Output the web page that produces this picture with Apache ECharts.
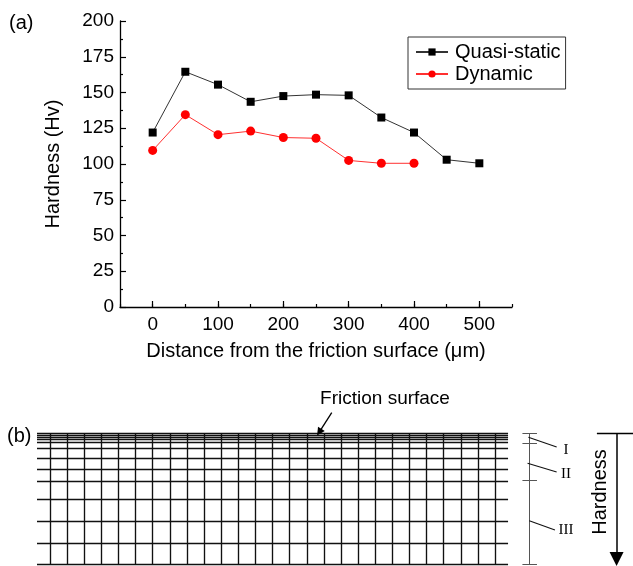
<!DOCTYPE html>
<html>
<head>
<meta charset="utf-8">
<script src="https://cdn.jsdelivr.net/npm/echarts@6/dist/echarts.min.js"></script>
<style>
html,body{margin:0;padding:0;background:#fff;}
#main{width:633px;height:566px;}
</style>
</head>
<body>
<div id="main"></div>
<script>
// ---------- Data: panel (a) ----------
const distances = [0, 50, 100, 150, 200, 250, 300, 350, 400, 450, 500];
const quasiStatic = [122, 164.5, 155.5, 143.5, 147.5, 148.5, 148, 132.5, 122, 103, 100.5];
const dynamicDist = [0, 50, 100, 150, 200, 250, 300, 350, 400];
const dynamic = [109.5, 134.5, 120.5, 123, 118.5, 118, 102.5, 100.5, 100.5];
const xMajorTicks = [0, 100, 200, 300, 400, 500];
const seriesNames = ['Quasi-static', 'Dynamic'];

// ---------- Data: panel (b) schematic ----------
const layerDepths = [0, 2, 4, 6.5, 9.5, 15.5, 25.5, 36, 48, 66, 88, 110, 131];
const gridColumns = [0,1,2,3,4,5,6,7,8,9,10,11,12,13,14,15,16,17,18,19,20,21,22,23,24,25,26];
const gridLeftEdge = -0.76;
const gridRightEdge = 26.76;
const zoneBounds = [0, 10.5, 47.5, 131];
const bracketX = 28;
const zoneLeaders = [
  [[27.95, 4.3], [29.6, 14]],
  [[27.9, 30.3], [29.6, 39]],
  [[28.0, 87.7], [29.5, 97]]
];
const hardnessArrowX = 33.1;
const hardnessTopBar = [31.95, 34.06];
const frictionArrow = [[16.46, -20.3], [15.73, -0.8]];

const FONT = '"Liberation Sans", Arial, Helvetica, sans-serif';
const SERIF = '"Liberation Serif", "Times New Roman", serif';

const chart = echarts.init(document.getElementById('main'), null, {renderer: 'canvas'});

const hLines = layerDepths.map(d => ({coords: [[gridLeftEdge, d], [gridRightEdge, d]]}));
const vLines = gridColumns.map(c => ({coords: [[c, layerDepths[0]], [c, layerDepths[layerDepths.length - 1]]]}));
const bracketLines = [{coords: [[bracketX, zoneBounds[0]], [bracketX, zoneBounds[zoneBounds.length - 1]]]}]
  .concat(zoneBounds.map(d => ({coords: [[bracketX - 0.4, d], [bracketX + 0.45, d]]})));
const leaderLines = zoneLeaders.map(p => ({coords: p}));

const option = {
  backgroundColor: '#fff',
  animation: false,
  textStyle: {fontFamily: FONT},
  grid: [
    {left: 120, right: 121, top: 21, bottom: 259, containLabel: false},
    {left: 37, right: 0, top: 393, bottom: 2, containLabel: false}
  ],
  legend: {
    data: seriesNames,
    orient: 'vertical',
    left: 408,
    top: 37,
    padding: [5, 5, 5, 7],
    itemGap: 2,
    itemWidth: 32,
    itemHeight: 9,
    borderColor: '#333',
    borderWidth: 1,
    textStyle: {fontFamily: FONT, fontSize: 20, color: '#000', padding: [0, 0, 0, 2]}
  },
  xAxis: [
    {
      gridIndex: 0, type: 'value', min: -50, max: 550, interval: 50,
      axisLine: {show: true, onZero: false, lineStyle: {color: '#000', width: 1.3}},
      axisTick: {show: true, inside: true, length: 3, lineStyle: {color: '#000', width: 1.2}},
      axisLabel: {show: false},
      splitLine: {show: false},
      name: 'Distance from the friction surface (\u03bcm)',
      nameLocation: 'middle',
      nameGap: 34,
      nameTextStyle: {fontFamily: FONT, fontSize: 20, color: '#000'}
    },
    {
      gridIndex: 0, type: 'value', min: -50, max: 550, position: 'bottom',
      axisLine: {show: false},
      axisTick: {show: true, inside: true, length: 6, customValues: xMajorTicks, lineStyle: {color: '#000', width: 1.2}},
      axisLabel: {show: true, customValues: xMajorTicks, margin: 8, fontFamily: FONT, fontSize: 19, color: '#000'},
      splitLine: {show: false}
    },
    {
      gridIndex: 1, type: 'value', min: gridLeftEdge, max: 34.06, show: false
    }
  ],
  yAxis: [
    {
      gridIndex: 0, type: 'value', min: 0, max: 200, interval: 25,
      axisLine: {show: true, onZero: false, lineStyle: {color: '#000', width: 1.3}},
      axisTick: {show: true, inside: true, length: 6, lineStyle: {color: '#000', width: 1.2}},
      minorTick: {show: true, splitNumber: 2, length: 3, lineStyle: {color: '#000', width: 1.2}},
      axisLabel: {margin: 6, fontFamily: FONT, fontSize: 19, color: '#000'},
      splitLine: {show: false},
      name: 'Hardness (Hv)',
      nameLocation: 'middle',
      nameGap: 57,
      nameTextStyle: {fontFamily: FONT, fontSize: 20, color: '#000'}
    },
    {
      gridIndex: 1, type: 'value', min: -40, max: 131, inverse: true, show: false
    }
  ],
  series: [
    {
      name: seriesNames[0], type: 'line', xAxisIndex: 0, yAxisIndex: 0,
      data: distances.map((d, i) => [d, quasiStatic[i]]),
      symbol: 'rect', symbolSize: 8,
      itemStyle: {color: '#000'},
      lineStyle: {color: '#333', width: 1}
    },
    {
      name: seriesNames[1], type: 'line', xAxisIndex: 0, yAxisIndex: 0,
      data: dynamicDist.map((d, i) => [d, dynamic[i]]),
      symbol: 'circle', symbolSize: 9,
      itemStyle: {color: '#ff0000'},
      lineStyle: {color: '#ff3030', width: 1}
    },
    {
      type: 'lines', coordinateSystem: 'cartesian2d', xAxisIndex: 2, yAxisIndex: 1,
      silent: true, clip: false,
      lineStyle: {color: '#111', width: 1.35, opacity: 1},
      data: hLines.concat(vLines)
    },
    {
      type: 'lines', coordinateSystem: 'cartesian2d', xAxisIndex: 2, yAxisIndex: 1,
      silent: true, clip: false,
      lineStyle: {color: '#555', width: 1, opacity: 1},
      data: bracketLines
    },
    {
      type: 'lines', coordinateSystem: 'cartesian2d', xAxisIndex: 2, yAxisIndex: 1,
      silent: true, clip: false,
      lineStyle: {color: '#111', width: 1.1, opacity: 1},
      data: leaderLines
    },
    {
      type: 'lines', coordinateSystem: 'cartesian2d', xAxisIndex: 2, yAxisIndex: 1,
      silent: true, clip: false,
      symbol: ['none', 'triangle'], symbolSize: [0, 14],
      lineStyle: {color: '#000', width: 1.5, opacity: 1},
      itemStyle: {color: '#000'},
      data: [
        {coords: [[hardnessArrowX, zoneBounds[0]], [hardnessArrowX, zoneBounds[zoneBounds.length - 1] - 5]]}
      ]
    },
    {
      type: 'lines', coordinateSystem: 'cartesian2d', xAxisIndex: 2, yAxisIndex: 1,
      silent: true, clip: false,
      lineStyle: {color: '#000', width: 1.3, opacity: 1},
      data: [{coords: [[hardnessTopBar[0], zoneBounds[0]], [hardnessTopBar[1], zoneBounds[0]]]}]
    },
    {
      type: 'lines', coordinateSystem: 'cartesian2d', xAxisIndex: 2, yAxisIndex: 1,
      silent: true, clip: false,
      symbol: ['none', 'triangle'], symbolSize: [0, 8],
      lineStyle: {color: '#000', width: 1.3, opacity: 1},
      itemStyle: {color: '#000'},
      data: [{coords: frictionArrow}]
    }
  ],
  graphic: [
    {type: 'text', style: {x: 9, y: 23, text: '(a)', font: '20px ' + FONT, fill: '#000', verticalAlign: 'middle', align: 'left'}},
    {type: 'text', style: {x: 7, y: 436, text: '(b)', font: '20px ' + FONT, fill: '#000', verticalAlign: 'middle', align: 'left'}},
    {type: 'text', style: {x: 385, y: 399, text: 'Friction surface', font: '19px ' + FONT, fill: '#000', verticalAlign: 'middle', align: 'center'}},
    {type: 'text', style: {x: 566, y: 450, text: 'I', font: '15px ' + SERIF, fill: '#000', verticalAlign: 'middle', align: 'center'}},
    {type: 'text', style: {x: 566, y: 474, text: 'II', font: '15px ' + SERIF, fill: '#000', verticalAlign: 'middle', align: 'center'}},
    {type: 'text', style: {x: 566, y: 530, text: 'III', font: '15px ' + SERIF, fill: '#000', verticalAlign: 'middle', align: 'center'}},
    {type: 'text', x: 600, y: 492, rotation: Math.PI / 2,
      style: {x: 0, y: 0, text: 'Hardness', font: '20px ' + FONT, fill: '#000', verticalAlign: 'middle', align: 'center'}}
  ]
};

chart.setOption(option);
</script>
</body>
</html>
